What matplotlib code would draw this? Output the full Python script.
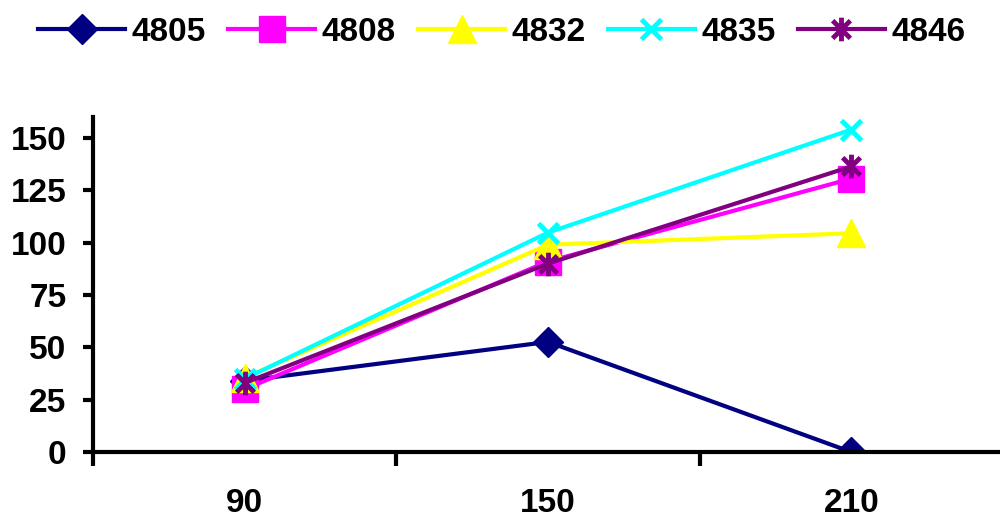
import matplotlib
matplotlib.use('Agg')
import matplotlib.pyplot as plt
from matplotlib.path import Path

plt.rcParams['font.family'] = ['Liberation Sans', 'DejaVu Sans']
plt.rcParams['font.weight'] = 'bold'

# Data
categories = ['90', '150', '210']
series_names = ['4805', '4808', '4832', '4835', '4846']
v4805 = [34, 52.6, 0]
v4808 = [30, 91, 130.6]
v4832 = [35.5, 99, 104.5]
v4835 = [35, 104.8, 154]
v4846 = [33, 90, 136.4]
y_ticks = [0, 25, 50, 75, 100, 125, 150]

# asterisk marker: vertical bar plus an X
star = Path([(0, -1), (0, 1), (-0.75, -0.75), (0.75, 0.75), (-0.75, 0.75), (0.75, -0.75)],
            [Path.MOVETO, Path.LINETO, Path.MOVETO, Path.LINETO, Path.MOVETO, Path.LINETO])

styles = [
    dict(color='#000080', marker='D', ms=15),
    dict(color='#FF00FF', marker='s', ms=19),
    dict(color='#FFFF00', marker='^', ms=20),
    dict(color='#00FFFF', marker='x', ms=15, mew=3.5),
    dict(color='#800080', marker=star, ms=17, mew=3.5),
]
values = [v4805, v4808, v4832, v4835, v4846]

fig = plt.figure(figsize=(10, 5.19), dpi=100)
ax = fig.add_axes([0.093, 0.129, 0.91, 0.6455])

x = list(range(len(categories)))
for name, vals, st in zip(series_names, values, styles):
    ax.plot(x, vals, lw=3, label=name, **st)

ax.set_xlim(-0.5, 2.5)
ax.set_ylim(0, 160)
ax.set_yticks(y_ticks)
ax.set_xticks(x)
ax.set_xticklabels(categories)
ax.set_xticks([-0.5, 0.5, 1.5, 2.5], minor=True)

for s in ['top', 'right']:
    ax.spines[s].set_visible(False)
for s in ['left', 'bottom']:
    ax.spines[s].set_linewidth(3)

ax.tick_params(axis='x', which='major', length=0, pad=26, labelsize=24)
ax.tick_params(axis='x', which='minor', length=10, width=3, direction='out')
ax.tick_params(axis='y', length=7, width=3, pad=12, labelsize=24)
for lab in ax.get_xticklabels() + ax.get_yticklabels():
    lab.set_fontweight('bold')

fig.legend(loc='upper center', bbox_to_anchor=(0.502, 1.025), ncol=5, frameon=False,
           prop={'size': 24, 'weight': 'bold'}, handlelength=2.6,
           handletextpad=0.2, columnspacing=0.67)

fig.savefig('out.png', dpi=100)
